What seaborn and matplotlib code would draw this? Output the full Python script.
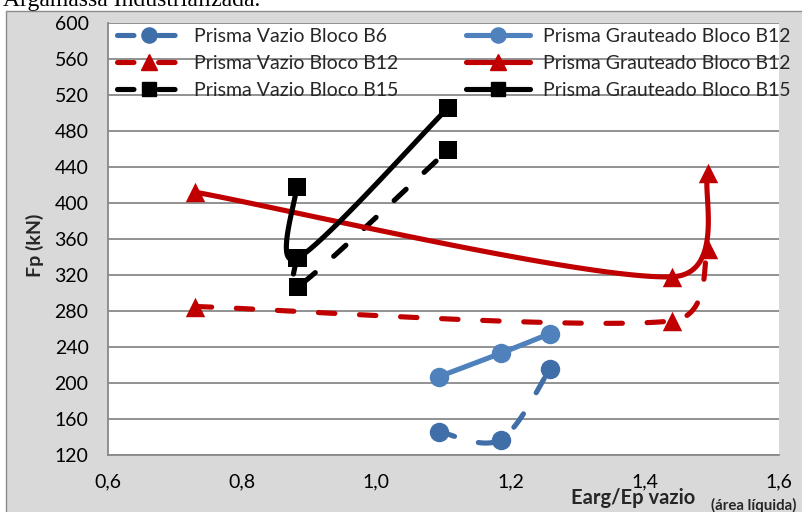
import numpy as np
import matplotlib
matplotlib.use("Agg")
import matplotlib.pyplot as plt
from matplotlib.lines import Line2D
from matplotlib.patches import Rectangle
import seaborn as sns

# Earg/Ep ratios and prism strengths Fp (kN)
x_b6 = [1.093, 1.185, 1.259]
fp_vazio_b6 = [146, 137, 216]
fp_graut_b6 = [207, 233, 255]

x_b12 = [0.730, 1.440, 1.494]
fp_vazio_b12 = [285, 269, 349]
fp_graut_b12 = [412, 318, 433]

x_b15 = [0.881, 0.883, 1.107]
fp_vazio_b15 = [339, 307, 459]
fp_graut_b15 = [418, 339, 506]

labels = [
    "Prisma Vazio Bloco B6",
    "Prisma Vazio Bloco B12",
    "Prisma Vazio Bloco B15",
    "Prisma Grauteado Bloco B12",
    "Prisma Grauteado Bloco B12",
    "Prisma Grauteado Bloco B15",
]

x_ticks = [0.6, 0.8, 1.0, 1.2, 1.4, 1.6]
y_ticks = [120, 160, 200, 240, 280, 320, 360, 400, 440, 480, 520, 560, 600]

BLUE = "#4f81bd"
BLUE_DK = "#3f6ea8"
RED = "#c00000"
BLACK = "#000000"
GRID = "#898989"

sns.set_style("white")
plt.rcParams["font.family"] = ["Lato", "DejaVu Sans"]

W, H = 802, 512
fig = plt.figure(figsize=(W / 100, H / 100), dpi=100)
fig.patch.set_facecolor("white")

# caption line running above the chart frame
fig.text(3 / W, 1 - 6 / H, "Argamassa Industrializada.", family="Liberation Serif",
         fontsize=17, ha="left", va="baseline", color="black", zorder=0)
fig.patches.append(Rectangle((6 / W, -0.01), 1.0, 1.01 - 10.5 / H, transform=fig.transFigure,
                             facecolor="#d9d9d9", edgecolor="#8c8c8c", lw=1.0, zorder=1))

ax = fig.add_axes([108 / W, 57 / H, 671 / W, 432 / H])
ax.set_zorder(2)
ax.set_facecolor("white")
ax.set_xlim(0.6, 1.6)
ax.set_ylim(120, 600)
ax.set_xticks(x_ticks)
ax.set_xticklabels([f"{v:.1f}".replace(".", ",") for v in x_ticks])
ax.set_yticks(y_ticks)
ax.set_yticklabels([str(v) for v in y_ticks])
ax.tick_params(axis="both", direction="out", length=5, width=1.1, color=GRID,
               labelsize=14, labelcolor="black")
ax.tick_params(axis="y", pad=9)
ax.tick_params(axis="x", pad=8)
ax.yaxis.grid(True, color=GRID, lw=1.3)
ax.xaxis.grid(False)
ax.set_axisbelow(True)
for side in ("top", "right"):
    ax.spines[side].set_visible(False)
for side in ("left", "bottom"):
    ax.spines[side].set_color(GRID)
    ax.spines[side].set_linewidth(1.3)
ax.set_xlabel("")
ax.set_ylabel("")


def smooth(xs, ys, n=60):
    """Spreadsheet-style smoothed Bezier path through the points (display space)."""
    pts = ax.transData.transform(np.column_stack([xs, ys]))
    m = len(pts)
    ext = np.vstack([pts[:1], pts, pts[-1:]])
    t = np.linspace(0, 1, n)[:, None]
    parts = []
    for i in range(m - 1):
        p0, p3 = pts[i], pts[i + 1]
        seg_len = np.linalg.norm(p3 - p0)
        o1 = (ext[i + 2] - ext[i]) / 6.0
        o2 = (ext[i + 3] - ext[i + 1]) / 6.0
        for o in (o1, o2):
            L = np.linalg.norm(o)
            if L > seg_len / 2 and L > 0:
                o *= (seg_len / 2) / L
        c1 = p0 + o1
        c2 = p3 - o2
        seg = (1 - t) ** 3 * p0 + 3 * (1 - t) ** 2 * t * c1 + 3 * (1 - t) * t ** 2 * c2 + t ** 3 * p3
        parts.append(seg if i == 0 else seg[1:])
    out = ax.transData.inverted().transform(np.vstack(parts))
    return out[:, 0], out[:, 1]


DASH = (0, (3.2, 4.8))
LW = 3.7
series = [
    (x_b6, fp_vazio_b6, BLUE_DK, DASH, "o", 14),
    (x_b12, fp_vazio_b12, RED, DASH, "^", 14),
    (x_b15, fp_vazio_b15, BLACK, DASH, "s", 13.5),
    (x_b6, fp_graut_b6, BLUE, "-", "o", 14),
    (x_b12, fp_graut_b12, RED, "-", "^", 14),
    (x_b15, fp_graut_b15, BLACK, "-", "s", 13.5),
]

handles = []
for k, (xs, ys, col, ls, mk, ms) in enumerate(series):
    cx, cy = smooth(xs, ys)
    sns.lineplot(x=cx, y=cy, sort=False, estimator=None, ax=ax, color=col, lw=LW,
                 linestyle=ls, dash_capstyle="round", solid_capstyle="round", zorder=3 + 2 * k)
    sns.scatterplot(x=xs, y=ys, ax=ax, marker=mk, s=ms ** 2, color=col, linewidth=0,
                    zorder=4 + 2 * k)
    handles.append(Line2D([], [], color=col, lw=LW, linestyle=ls, marker=mk,
                          markersize=ms * 0.78, dash_capstyle="round",
                          solid_capstyle="round"))

leg = fig.legend(handles, labels, ncol=2, loc="upper left",
                 bbox_to_anchor=(117 / W, 1 - 28 / H), frameon=False, fontsize=14,
                 handlelength=3.3, handletextpad=0.65, columnspacing=3.5,
                 labelspacing=0.52, borderpad=0, borderaxespad=0, numpoints=1)
leg.set_zorder(20)

fig.text(35 / W, 1 - 245 / H, "Fp (kN)", rotation=90, fontsize=14, fontweight="bold",
         ha="center", va="center", zorder=5)
fig.text(571 / W, 1 - 498 / H, "Earg/Ep vazio", fontsize=14.5, fontweight="bold",
         ha="left", va="center", zorder=5)
fig.text(711 / W, 1 - 505 / H, "(área líquida)", fontsize=10.8, fontweight="bold",
         ha="left", va="center", zorder=5)

fig.savefig("out.png", dpi=100)
